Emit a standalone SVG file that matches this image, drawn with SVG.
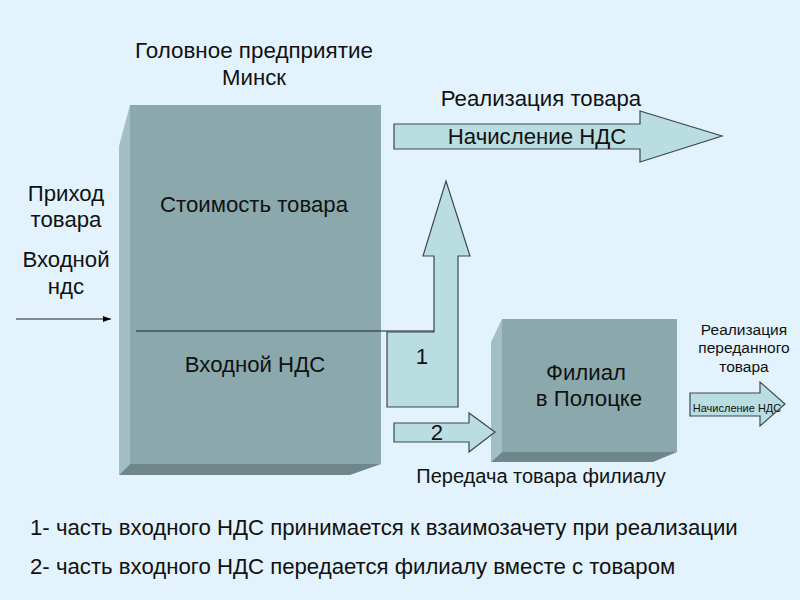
<svg xmlns="http://www.w3.org/2000/svg" width="800" height="600" viewBox="0 0 800 600">
<defs>
<marker id="ah" markerWidth="8" markerHeight="6" refX="8" refY="3" orient="auto" markerUnits="userSpaceOnUse"><path d="M0 0L8 3L0 6Z" fill="#000"/></marker>
</defs>
<style>
text{font-family:"Liberation Sans",Arial,sans-serif;fill:#111;text-anchor:middle}
.t22{font-size:22.2px}
.t20{font-size:20px}
.t16{font-size:16px}
.t11{font-size:11px}
.front{fill:#8ba9ac}
.side{fill:#a2c0c4}
.bot{fill:#6f878a}
.arr{fill:#b9dde0;stroke:#3a4a4c;stroke-width:1.2}
.ln{fill:none;stroke:#222;stroke-width:1.2}
</style>
<rect width="800" height="600" fill="#e2f3fd"/>
<g id="node-title"><text class="t20" style="font-size:22.4px" x="254" y="58">Головное предприятие</text><text class="t22" x="254" y="85">Минск</text></g>
<g id="node-income"><text class="t22" x="66" y="201">Приход</text><text class="t22" x="66" y="227">товара</text><text class="t22" x="66" y="267">Входной</text><text class="t22" x="66" y="294">ндс</text></g>
<g id="node-head">
<polygon class="side" points="130,105 119,146 119,475 130,464"/>
<polygon class="bot" points="119,475 130,464 381,464 350,475"/>
<rect class="front" x="130" y="105" width="251" height="359"/>
<text class="t22" x="254" y="212">Стоимость товара</text>
<text class="t22" x="255" y="372">Входной НДС</text>
</g>
<g id="node-branch">
<polygon class="side" points="502,319 491,342 491,462 502,452"/>
<polygon class="bot" points="491,462 502,452 677,452 653,462"/>
<rect class="front" x="502" y="319" width="175" height="133"/>
<text class="t22" x="586" y="380">Филиал</text>
<text class="t22" x="589" y="406">в Полоцке</text>
</g>
<g id="connectors">
<line class="ln" x1="16" y1="319" x2="111" y2="319" marker-end="url(#ah)"/>
<polygon class="arr" points="394,124 640,124 640,111 722,136 640,162 640,149 394,149"/>
<polygon class="arr" points="387,332 434,332 434,256 423,256 446,181 470,256 458,256 458,407 387,407"/>
<line class="ln" x1="136" y1="331" x2="434" y2="331"/>
<polygon class="arr" points="394,423 469,423 469,413 495,432 469,452 469,442 394,442"/>
<polygon class="arr" points="690,393 760,393 760,382 785,404 760,426 760,416 690,416"/>
</g>
<g id="label-sale"><text class="t22" x="541" y="106">Реализация товара</text></g>
<g id="label-vat"><text class="t22" x="537" y="144">Начисление НДС</text></g>
<g id="label-1"><text class="t22" x="422" y="364">1</text></g>
<g id="label-2"><text class="t22" x="437" y="440">2</text></g>
<g id="label-transfer"><text class="t20" x="541" y="483">Передача товара филиалу</text></g>
<g id="label-sale2"><text class="t16" style="font-size:15.5px" x="744" y="335">Реализация</text><text class="t16" style="font-size:15.5px" x="744" y="353">переданного</text><text class="t16" style="font-size:15.5px" x="744" y="372">товара</text></g>
<g id="label-vat2"><text class="t11" x="737" y="412">Начисление НДС</text></g>
<g id="notes">
<text class="t22" x="30" y="535" style="text-anchor:start">1- часть входного НДС принимается к взаимозачету при реализации</text>
<text class="t22" x="30" y="574" style="text-anchor:start">2- часть входного НДС передается филиалу вместе с товаром</text>
</g>
</svg>
